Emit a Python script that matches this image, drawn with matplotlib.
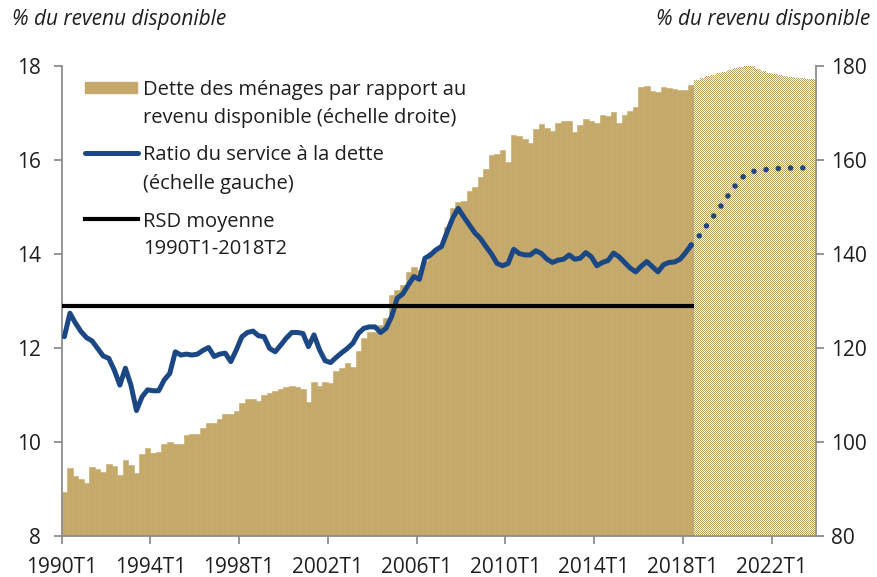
import numpy as np
import matplotlib
matplotlib.use("Agg")
import matplotlib.pyplot as plt
from matplotlib.path import Path
from matplotlib.patches import Rectangle
from matplotlib.lines import Line2D

plt.rcParams['font.family'] = ['Open Sans', 'DejaVu Sans']

# ---------------- data ----------------
tick_labels = ["1990T1", "1994T1", "1998T1", "2002T1", "2006T1",
               "2010T1", "2014T1", "2018T1", "2022T1"]

# Household debt / disposable income (%), right scale, 1990T1-2018T2
debt_actual = [
    89.3, 94.4, 92.8, 92.2, 91.3, 94.7, 94.3, 93.7, 95.3, 94.9,
    92.9, 96.1, 95.2, 93.5, 97.5, 98.7, 97.6, 97.9, 99.6, 100.0,
    99.5, 99.5, 101.5, 101.7, 101.8, 103.0, 104.0, 104.0, 105.0, 106.0,
    106.0, 106.6, 108.4, 109.2, 109.2, 108.8, 109.9, 110.4, 110.9, 111.3,
    111.8, 111.9, 111.6, 111.2, 108.6, 112.8, 112.0, 112.8, 112.6, 115.2,
    115.8, 116.9, 116.0, 119.4, 122.2, 123.3, 123.3, 125.0, 126.4, 131.3,
    132.3, 133.3, 136.1, 137.2, 136.5, 138.5, 140.5, 140.9, 141.7, 145.8,
    149.7, 151.1, 151.3, 153.3, 154.3, 156.4, 158.0, 161.1, 161.3, 162.1,
    159.6, 165.3, 165.1, 164.4, 163.7, 166.5, 167.6, 166.9, 166.2, 167.9,
    168.4, 168.4, 165.9, 167.4, 168.7, 168.4, 167.9, 169.6, 169.4, 170.2,
    167.8, 169.6, 170.5, 171.2, 175.6, 175.8, 174.7, 174.5, 175.5, 175.3,
    175.2, 175.0, 174.9, 176.0,
]
# Projection 2018T3-2023T4
debt_forecast = [
    177.0, 177.4, 177.8, 178.1, 178.5, 178.8, 179.2, 179.5, 179.8, 180.1,
    179.9, 179.4, 179.0, 178.5, 178.2, 178.0, 177.8, 177.7, 177.5, 177.4,
    177.3, 177.2,
]

# Debt service ratio (%), left scale, 1990T1-2018T2
dsr_actual = [
    12.24, 12.74, 12.53, 12.35, 12.22, 12.15, 11.99, 11.83, 11.78, 11.53,
    11.21, 11.57, 11.21, 10.67, 10.96, 11.11, 11.09, 11.09, 11.32, 11.46,
    11.92, 11.85, 11.87, 11.85, 11.87, 11.95, 12.01, 11.82, 11.87, 11.89,
    11.71, 11.96, 12.24, 12.33, 12.36, 12.26, 12.24, 11.99, 11.92, 12.06,
    12.21, 12.33, 12.33, 12.31, 12.03, 12.28, 11.96, 11.73, 11.69, 11.80,
    11.90, 11.99, 12.10, 12.31, 12.42, 12.45, 12.45, 12.33, 12.42, 12.67,
    13.06, 13.15, 13.34, 13.52, 13.46, 13.91, 13.98, 14.09, 14.16, 14.47,
    14.76, 14.97, 14.79, 14.62, 14.45, 14.33, 14.16, 14.00, 13.80, 13.75,
    13.80, 14.10, 14.01, 13.98, 13.98, 14.07, 14.01, 13.89, 13.82, 13.87,
    13.89, 13.98, 13.89, 13.91, 14.03, 13.94, 13.75, 13.82, 13.86, 14.02,
    13.94, 13.82, 13.70, 13.62, 13.74, 13.84, 13.73, 13.62, 13.77, 13.82,
    13.83, 13.89, 14.03, 14.19,
]
# Projection 2018T3-2023T4
dsr_forecast = [
    14.31, 14.48, 14.64, 14.80, 14.96, 15.13, 15.30, 15.46, 15.61, 15.70,
    15.75, 15.78, 15.79, 15.80, 15.82, 15.82, 15.82, 15.83, 15.83, 15.83,
    15.84, 15.84,
]
dsr_mean = 12.89   # average 1990T1-2018T2

# ---------------- styling ----------------
TAN = "#C4A96B"
TAN_DOT = "#B89A5A"
BLUE = "#1B4885"
GREY = "#8C8C8C"
TXT = "#1E1E1E"
FS = 15
FS_LEG = 14.5

W, H = 877, 577
fig = plt.figure(figsize=(W / 100, H / 100), dpi=100)
L, R, T, B = 61.6, 816.0, 66.0, 536.0
ax = fig.add_axes([L / W, 1 - B / H, (R - L) / W, (B - T) / H])
ax.set_zorder(1)
ax2 = ax.twinx()
ax2.set_zorder(3)
ax2.patch.set_visible(False)

n_act = len(debt_actual)
n_fc = len(debt_forecast)
x_act = np.arange(n_act)
x_fc = np.arange(n_act, n_act + n_fc)

ax.set_xlim(0, n_act + n_fc)
ax.set_ylim(80, 180)
ax2.set_ylim(8, 18)

# bars (right scale)
ax.bar(x_act, debt_actual, width=1.0, align="edge", color=TAN,
       edgecolor=TAN, linewidth=0.4)
fc_bars = ax.bar(x_fc, debt_forecast, width=1.0, align="edge",
                 color="white", linewidth=0)

# checkered pattern for projection bars
paths = [b.get_path().transformed(b.get_patch_transform()) for b in fc_bars]
clip = Path.make_compound_path(*paths)
yy, xx = np.mgrid[0:H, 0:W]
pat = np.zeros((H, W, 4), dtype=np.uint8)
rgb = (np.array(matplotlib.colors.to_rgb(TAN_DOT)) * 255).astype(np.uint8)
mask = ((yy + xx) % 2) == 0
pat[mask, :3] = rgb
pat[mask, 3] = 255
im = fig.figimage(pat, xo=0, yo=0, origin="upper", zorder=2)
im.set_clip_box(ax.bbox)
im.set_clip_path(clip, ax.transData)

# lines (left scale)
xc_act = x_act + 0.5
xc_fc = np.concatenate([[xc_act[-1]], x_fc + 0.5])
ax2.plot(xc_act, dsr_actual, color=BLUE, lw=3.6, solid_capstyle="round",
         solid_joinstyle="round")
ax2.plot(xc_fc, [dsr_actual[-1]] + dsr_forecast, color=BLUE, lw=4.0,
         linestyle=(0, (0.01, 2.2)), dash_capstyle="round")
ax2.plot([0, n_act], [dsr_mean, dsr_mean], color="black", lw=3.0,
         solid_capstyle="butt")

# ticks
ax.set_xticks(np.arange(0, n_act + n_fc, 16))
ax.set_xticklabels(tick_labels)
ax.set_yticks(np.arange(80, 181, 20))
ax2.set_yticks(np.arange(8, 19, 2))

ax.yaxis.tick_right()
ax2.yaxis.tick_left()
ax2.yaxis.set_label_position("left")

ax.spines["top"].set_visible(False)
for s in ["left", "right", "bottom"]:
    ax.spines[s].set_color(GREY)
    ax.spines[s].set_linewidth(1.3)
for s in ax2.spines.values():
    s.set_visible(False)

ax.tick_params(axis="x", direction="out", length=6, width=1.3, color=GREY,
               labelsize=FS, labelcolor=TXT, pad=9)
ax.tick_params(axis="y", direction="out", length=6, width=1.3, color=GREY,
               labelsize=FS, labelcolor=TXT, pad=5, left=False, right=True)
ax2.tick_params(axis="y", direction="out", length=6, width=1.3, color=GREY,
                labelsize=FS, labelcolor=TXT, pad=9, left=True, right=False,
                labelleft=True, labelright=False)

# titles
fig.text(12 / W, 1 - 19 / H, "% du revenu disponible", style="italic",
         fontsize=FS, color=TXT, ha="left", va="center")
fig.text(870 / W, 1 - 19 / H, "% du revenu disponible", style="italic",
         fontsize=FS, color=TXT, ha="right", va="center")

# legend (manual, handles aligned with the first line of each label)
def fx(px):
    return (px - L) / (R - L)

def fy(py):
    return (B - py) / (B - T)

ax2.add_patch(Rectangle((fx(85), fy(93.3)), fx(136.7) - fx(85),
                        fy(81.7) - fy(93.3), transform=ax2.transAxes,
                        color=TAN, clip_on=False))
ax2.add_line(Line2D([fx(85), fx(138)], [fy(153.3)] * 2, color=BLUE, lw=3.6,
                    transform=ax2.transAxes, solid_capstyle="round"))
ax2.add_line(Line2D([fx(85), fx(138)], [fy(219)] * 2, color="black", lw=3.0,
                    transform=ax2.transAxes))
labels = [("Dette des ménages par rapport au", 88),
          ("revenu disponible (échelle droite)", 116),
          ("Ratio du service à la dette", 153),
          ("(échelle gauche)", 182),
          ("RSD moyenne", 219),
          ("1990T1-2018T2", 247)]
for txt, py in labels:
    ax2.text(fx(143.3), fy(py), txt, transform=ax2.transAxes,
             fontsize=FS_LEG, color=TXT, ha="left", va="center_baseline")

fig.savefig("out.png", dpi=100)
